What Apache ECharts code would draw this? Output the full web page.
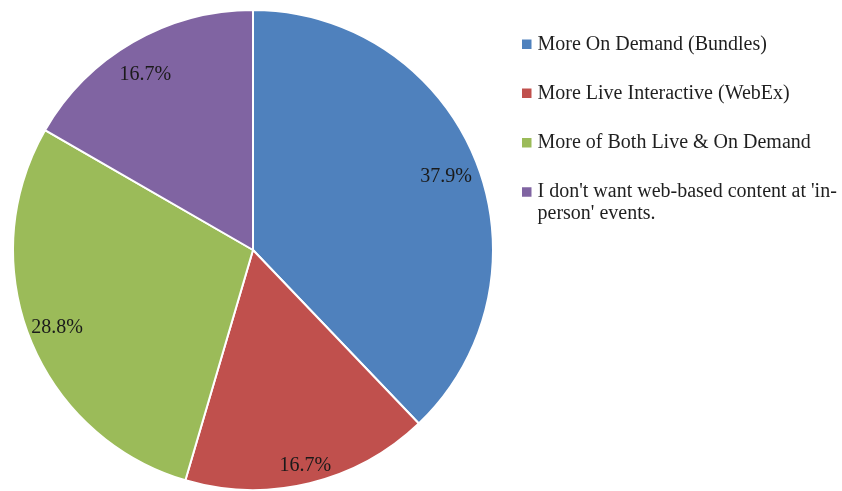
<!DOCTYPE html>
<html>
<head>
<meta charset="utf-8">
<script src="https://cdn.jsdelivr.net/npm/echarts@6/dist/echarts.min.js"></script>
<style>
  html, body { margin: 0; padding: 0; background: #ffffff; }
  #chart { width: 842px; height: 491px; }
</style>
</head>
<body>
<div id="chart"></div>
<script>
// Survey answers: preferred web-based content at in-person events (percent of responses)
const categories = [
  'More On Demand (Bundles)',
  'More Live Interactive (WebEx)',
  'More of Both Live & On Demand',
  "I don't want web-based content at 'in-person' events."
];
const shares = [37.9, 16.7, 28.8, 16.7];
const colors = ['#4F81BD', '#C0504D', '#9BBB59', '#8064A2'];

const FONT = '"Liberation Serif", "Times New Roman", serif';
const CENTER = [253, 250];
const R = 240;

const pieData = categories.map((name, i) => ({ name, value: shares[i] }));

// small nudges for the percentage labels sitting near the rim
const labelNudge = [[-1, 5], [3, 13], [-2, 0], [-3, 6]];

// One legend block per answer so each swatch lines up with the first line of its text
const legendCenters = [43.5, 92.5, 142, 192];
const legendFontSize = 20;
const LINE = 21.5;
const legends = categories.map((name, i) => {
  const wrap = name.indexOf("'in-") >= 0;
  return {
    orient: 'vertical',
    left: 520,
    top: legendCenters[i] - (wrap ? LINE * 1.5 : legendFontSize / 2),
    padding: 0,
    itemWidth: 11.5,
    itemHeight: 11.5,
    icon: 'rect',
    selectedMode: false,
    data: [{ name, itemStyle: { color: colors[i] } }],
    // the long answer wraps after "'in-"; a leading empty line keeps the
    // first text line level with the swatch
    formatter: n => n.indexOf("'in-person'") >= 0
      ? '\n' + n.replace("'in-person'", "'in-\nperson'")
      : n,
    textStyle: {
      fontFamily: FONT,
      fontSize: legendFontSize,
      color: '#1f1f1f',
      lineHeight: LINE
    }
  };
});

const option = {
  animation: false,
  backgroundColor: '#ffffff',
  color: colors,
  legend: legends,
  series: [
    {
      type: 'pie',
      center: CENTER,
      radius: R,
      startAngle: 90,
      clockwise: true,
      silent: true,
      data: pieData,
      itemStyle: { borderColor: '#ffffff', borderWidth: 2 },
      label: { show: false },
      labelLine: { show: false }
    },
    {
      // transparent ring carrying the percentage labels near the rim
      type: 'pie',
      center: CENTER,
      radius: [172, R],
      startAngle: 90,
      clockwise: true,
      silent: true,
      legendHoverLink: false,
      data: pieData.map((d, i) => Object.assign({}, d, { label: { offset: labelNudge[i] } })),
      itemStyle: { color: 'rgba(0,0,0,0)' },
      label: {
        show: true,
        position: 'inside',
        formatter: p => p.value.toFixed(1) + '%',
        fontFamily: FONT,
        fontSize: 20,
        color: '#1a1a1a'
      },
      labelLine: { show: false }
    }
  ]
};

const chart = echarts.init(document.getElementById('chart'), null, { renderer: 'canvas' });
chart.setOption(option);
</script>
</body>
</html>
